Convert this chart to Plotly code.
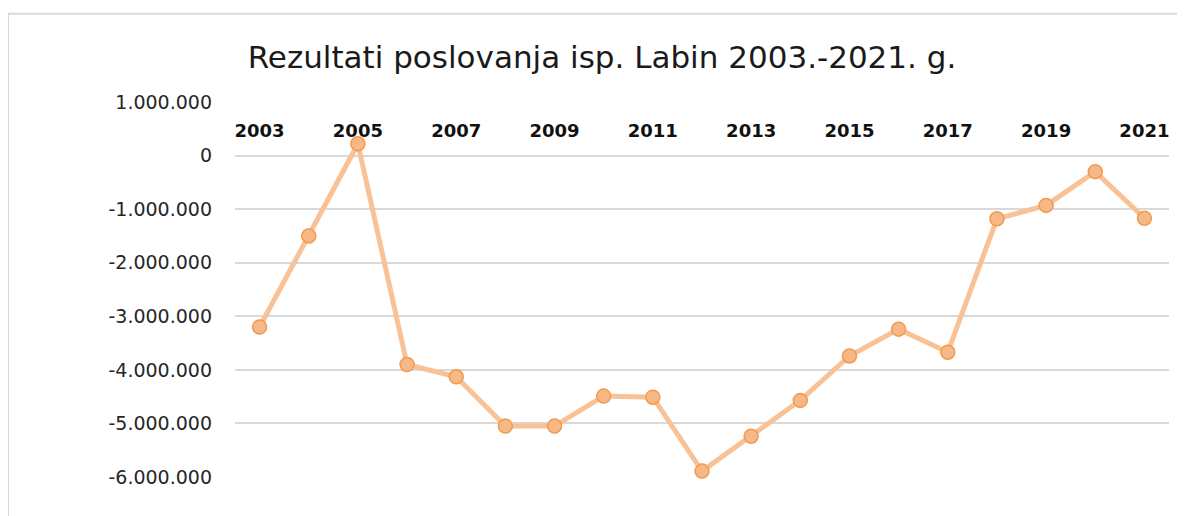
import plotly.graph_objects as go

years = [str(y) for y in range(2003, 2022)]
values = [-3200000, -1500000, 220000, -3900000, -4130000, -5050000, -5050000,
          -4490000, -4510000, -5890000, -5240000, -4570000, -3740000, -3240000,
          -3670000, -1180000, -930000, -300000, -1170000]
tick_years = [str(y) for y in range(2003, 2022, 2)]
y_ticks = [1000000, 0, -1000000, -2000000, -3000000, -4000000, -5000000, -6000000]
y_labels = ["1.000.000", "0", "-1.000.000", "-2.000.000", "-3.000.000",
            "-4.000.000", "-5.000.000", "-6.000.000"]
title = "Rezultati poslovanja isp. Labin 2003.-2021. g."

# page body has an 8px margin; figure sized to fit inside the window
OFF = 8
W, H = 1185 - OFF, 516 - OFF
L = 235 - OFF
T = 102.3 - OFF
R = W - (1169 - OFF)
B = H - (477.3 - OFF)
pw, ph = W - L - R, H - T - B
ymin, ymax = -6000000, 1000000

fig = go.Figure()
fig.add_trace(go.Scatter(
    x=years, y=values, mode="lines+markers",
    line=dict(color="#F9C196", width=5),
    marker=dict(size=14, color="#F6B887", line=dict(color="#F29A4E", width=1.5)),
    showlegend=False, cliponaxis=False,
))

font = "DejaVu Sans"
fig.update_layout(
    width=W, height=H,
    margin=dict(l=L, r=R, t=T, b=B, autoexpand=False),
    paper_bgcolor="white", plot_bgcolor="white",
    title=dict(text=title, font=dict(family=font, size=31, color="#1a1a1a"),
               xref="container", yref="container",
               x=(602 - OFF) / W, y=1 - (57 - OFF) / H,
               xanchor="center", yanchor="middle"),
    xaxis=dict(type="category", range=[-0.5, len(years) - 0.5],
               tickvals=tick_years, ticktext=tick_years,
               side="top", anchor="free", position=(0 - ymin) / (ymax - ymin),
               showgrid=False, showline=False, zeroline=False,
               ticks="", ticklabelstandoff=15,
               tickfont=dict(family=font, size=18, color="#111111", weight="bold")),
    yaxis=dict(range=[ymin, ymax], tickvals=y_ticks, ticktext=y_labels,
               showgrid=True, gridcolor="#D9D9D9", gridwidth=2,
               zeroline=False, showline=False, ticks="", ticklabelstandoff=22,
               tickfont=dict(family=font, size=19, color="#262626")),
)

# chart frame
fig.add_shape(type="rect", xref="paper", yref="paper",
              x0=(8 - OFF - L) / pw, x1=(1180 - OFF - L) / pw,
              y0=(H - B - 540) / ph, y1=(H - B - (14 - OFF)) / ph,
              line=dict(color="#D9D9D9", width=2), fillcolor="rgba(0,0,0,0)", layer="below")

fig.write_html("out.html")
